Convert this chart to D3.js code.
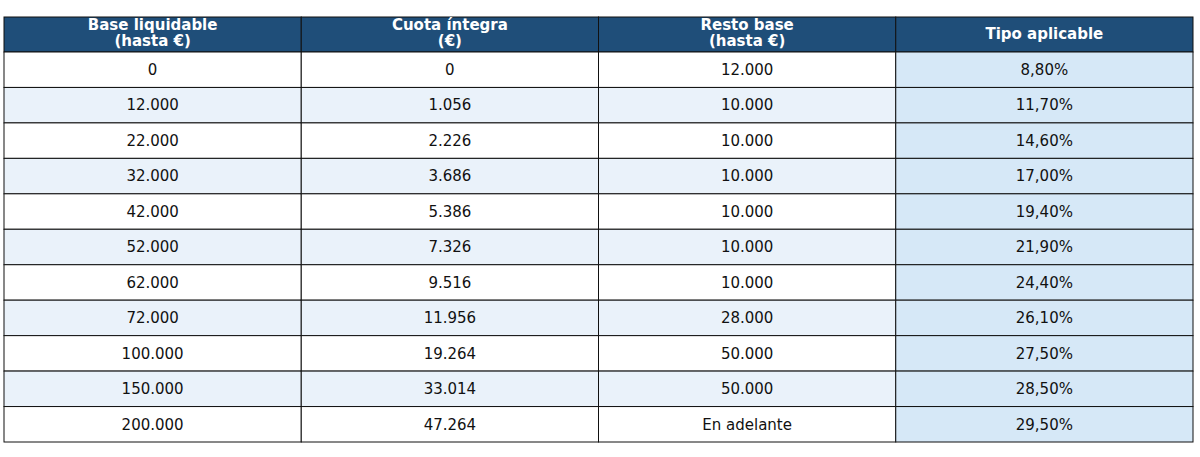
<!DOCTYPE html>
<html><head><meta charset="utf-8">
<script src="https://cdn.jsdelivr.net/npm/d3@7"></script>
<style>body{margin:0;background:#fff;font-family:"DejaVu Sans",sans-serif;}</style>
</head><body><svg></svg>
<script>
// table content
var headers = [["Base liquidable", "(hasta €)"], ["Cuota íntegra", "(€)"], ["Resto base", "(hasta €)"], ["Tipo aplicable"]];
var baseLiquidable = ["0", "12.000", "22.000", "32.000", "42.000", "52.000", "62.000", "72.000", "100.000", "150.000", "200.000"];
var cuotaIntegra = ["0", "1.056", "2.226", "3.686", "5.386", "7.326", "9.516", "11.956", "19.264", "33.014", "47.264"];
var restoBase = ["12.000", "10.000", "10.000", "10.000", "10.000", "10.000", "10.000", "28.000", "50.000", "50.000", "En adelante"];
var tipoAplicable = ["8,80%", "11,70%", "14,60%", "17,00%", "19,40%", "21,90%", "24,40%", "26,10%", "27,50%", "28,50%", "29,50%"];

var columns = [baseLiquidable, cuotaIntegra, restoBase, tipoAplicable];
var nRows = baseLiquidable.length;

var svg = d3.select("svg").attr("width", 1200).attr("height", 457);

var x = d3.scaleBand().domain(d3.range(4)).range([4, 1193]);
var headTop = 17, headBottom = 52;
var y = d3.scaleBand().domain(d3.range(nRows)).range([headBottom, 442]);

// header cells
var head = svg.append("g");
head.selectAll("rect").data(headers).enter().append("rect")
    .attr("x", function (d, i) { return x(i); })
    .attr("y", headTop)
    .attr("width", x.bandwidth())
    .attr("height", headBottom - headTop)
    .attr("fill", "#1f4e79")
    .attr("stroke", "#111").attr("stroke-width", 1);
head.selectAll("text").data(headers).enter().append("text")
    .attr("x", function (d, i) { return x(i) + x.bandwidth() / 2; })
    .attr("y", function (d) { return d.length > 1 ? 30 : 39; })
    .attr("text-anchor", "middle")
    .attr("fill", "#fff")
    .attr("font-weight", "bold")
    .attr("font-size", 15)
    .each(function (d) {
        var t = d3.select(this);
        d.forEach(function (line, k) {
            t.append("tspan").attr("x", t.attr("x")).attr("dy", k ? 16 : 0).text(line);
        });
    });

// body cells
var cells = [];
columns.forEach(function (col, c) {
    col.forEach(function (v, r) { cells.push({ c: c, r: r, v: v }); });
});

var body = svg.append("g");
body.selectAll("rect").data(cells).enter().append("rect")
    .attr("x", function (d) { return x(d.c); })
    .attr("y", function (d) { return y(d.r); })
    .attr("width", x.bandwidth())
    .attr("height", y.bandwidth())
    .attr("fill", function (d) {
        if (d.c == 3) return "#d6e8f7";
        return d.r % 2 ? "#eaf2fa" : "#ffffff";
    })
    .attr("stroke", "#111").attr("stroke-width", 1);
body.selectAll("text").data(cells).enter().append("text")
    .attr("x", function (d) { return x(d.c) + x.bandwidth() / 2; })
    .attr("y", function (d) { return y(d.r) + y.bandwidth() / 2; })
    .attr("dy", ".35em")
    .attr("text-anchor", "middle")
    .attr("font-size", 15)
    .attr("fill", "#111")
    .text(function (d) { return d.v; });
</script>
</body></html>
